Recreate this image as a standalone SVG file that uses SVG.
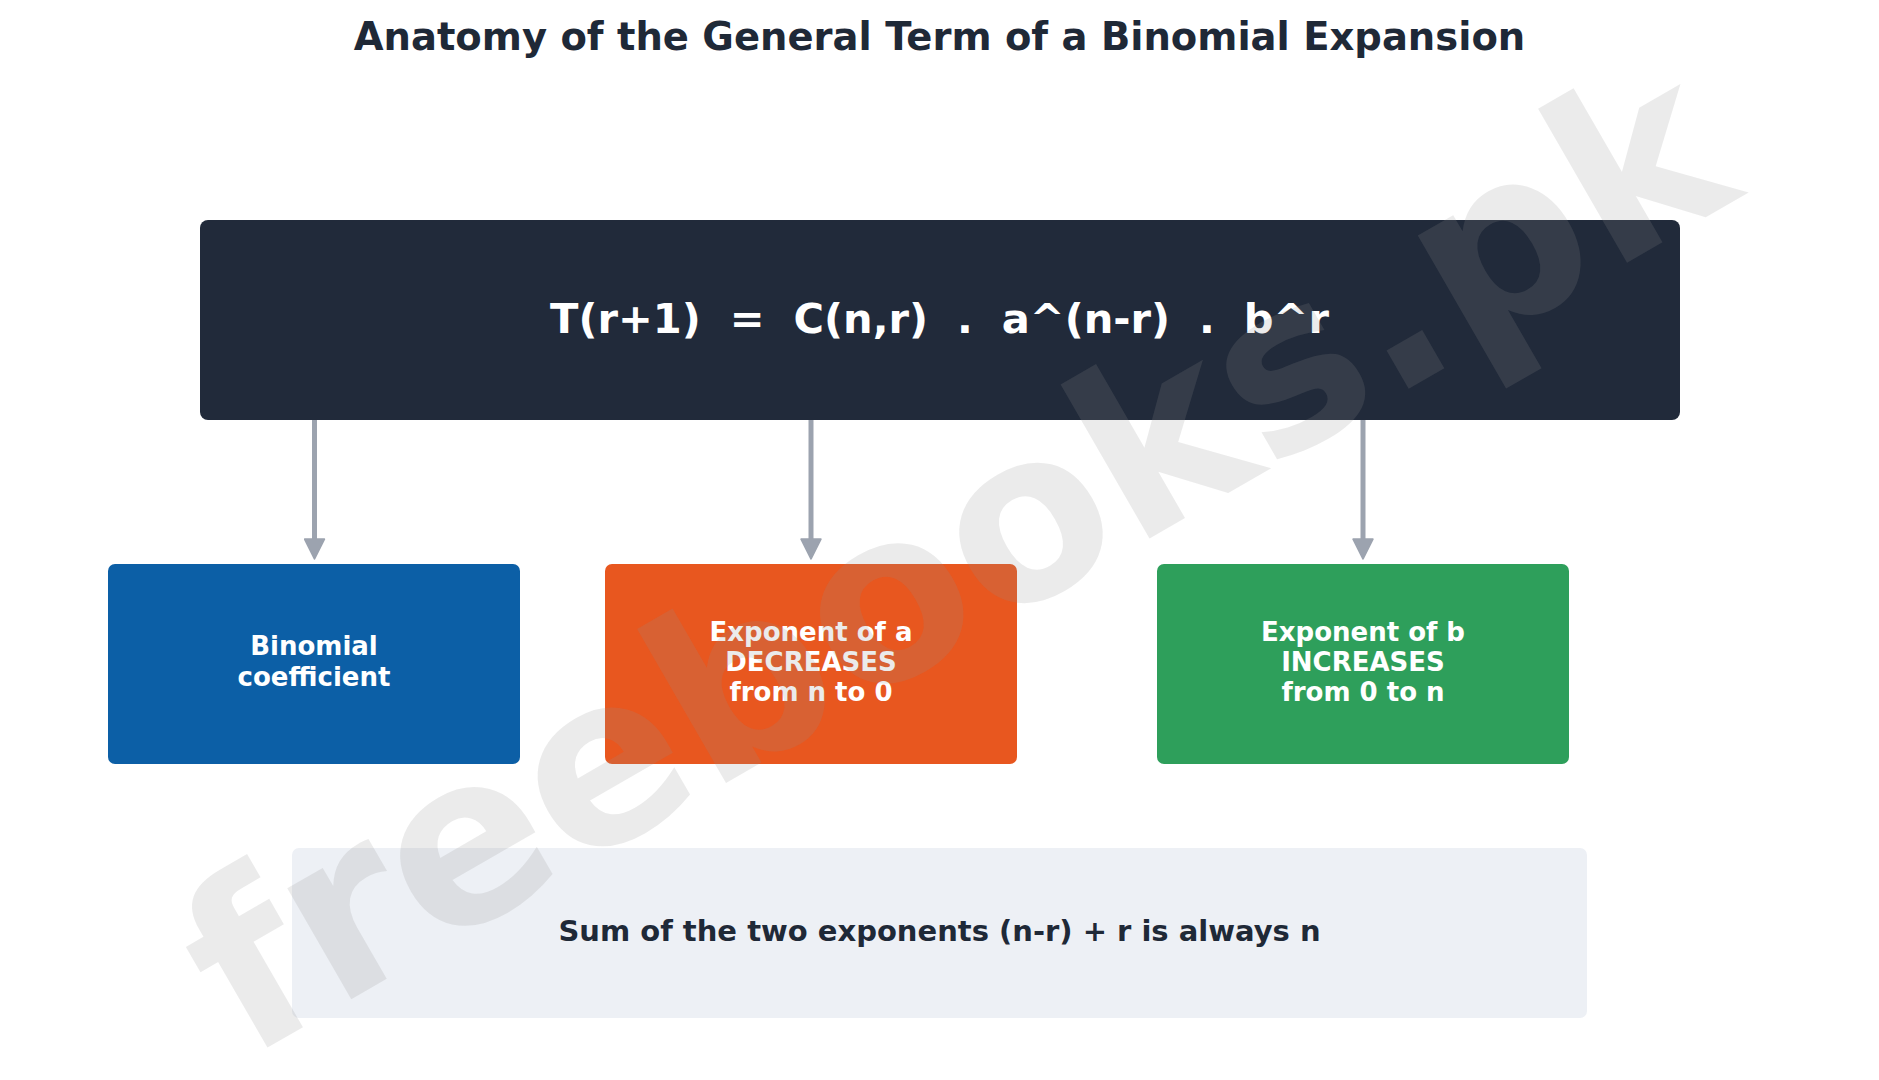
<svg xmlns="http://www.w3.org/2000/svg" width="1879" height="1080" viewBox="0 0 1879 1080">
<defs>
<style>
text{font-family:"DejaVu Sans","Liberation Sans",sans-serif;font-weight:bold;text-anchor:middle}
.title{font-size:38.5px;fill:#1f2937}
.formula{font-size:41.6px;fill:#ffffff;white-space:pre}
.lbl{font-size:26px;fill:#ffffff}
.note{font-size:29px;fill:#1f2937}
.conn{stroke:#9ca3af;stroke-width:5;fill:none;marker-end:url(#ah)}
.wm{font-size:234px;fill:#929292;fill-opacity:0.18;text-anchor:start}
</style>
<marker id="ah" markerUnits="userSpaceOnUse" markerWidth="22" markerHeight="22" viewBox="0 0 20 20" refX="9" refY="10" orient="auto">
<path d="M1,1 L19,10 L1,19 Z" fill="#9ca3af" stroke="#9ca3af" stroke-width="1.5" stroke-linejoin="round"/>
</marker>
</defs>
<rect width="1879" height="1080" fill="#ffffff"/>
<text class="title" x="939.5" y="50">Anatomy of the General Term of a Binomial Expansion</text>
<g id="formula">
<rect x="200" y="220" width="1480" height="200" rx="8" fill="#212a3a"/>
<text class="formula" x="939.5" y="333" xml:space="preserve">T(r+1)  =  C(n,r)  .  a^(n-r)  .  b^r</text>
</g>
<g id="connectors">
<path class="conn" d="M314.5,420 V548"/>
<path class="conn" d="M811,420 V548"/>
<path class="conn" d="M1363,420 V548"/>
</g>
<g id="binomial">
<rect x="108" y="564" width="412" height="200" rx="7" fill="#0c5fa6"/>
<text class="lbl" x="314" y="655">Binomial</text>
<text class="lbl" x="314" y="685.5">coefficient</text>
</g>
<g id="exp-a">
<rect x="605" y="564" width="412" height="200" rx="7" fill="#e8571f"/>
<text class="lbl" x="811" y="641">Exponent of a</text>
<text class="lbl" x="811" y="671">DECREASES</text>
<text class="lbl" x="811" y="701">from n to 0</text>
</g>
<g id="exp-b">
<rect x="1157" y="564" width="412" height="200" rx="7" fill="#2e9f5b"/>
<text class="lbl" x="1363" y="641">Exponent of b</text>
<text class="lbl" x="1363" y="671">INCREASES</text>
<text class="lbl" x="1363" y="701">from 0 to n</text>
</g>
<g id="sum-note">
<rect x="292" y="848" width="1295" height="170" rx="7" fill="#edf0f5"/>
<text class="note" x="939.5" y="941">Sum of the two exponents (n-r) + r is always n</text>
</g>
<text class="wm" transform="translate(246,1060) rotate(-30)">freebooks.pk</text>
</svg>
